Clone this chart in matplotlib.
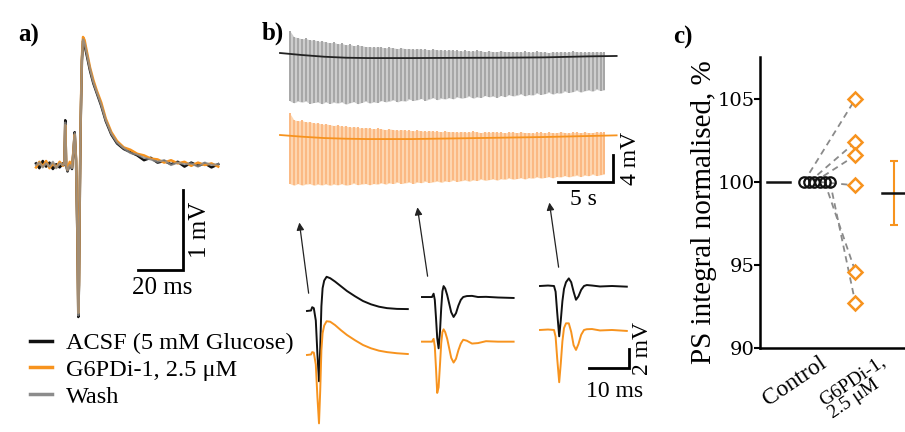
import numpy as np
import matplotlib
matplotlib.use("Agg")
import matplotlib.pyplot as plt
from matplotlib.lines import Line2D

W, H = 905, 432
plt.rcParams['font.family'] = ['Liberation Serif', 'DejaVu Serif']

BLACK = '#111111'
ORANGE = '#f7931e'
GRAY = '#8c8c8c'

# ---------------- data ----------------
# panel a: averaged field potential (ms, mV)
t_a = [0, 1.5, 3, 4.5, 6, 7.5, 9, 10.5, 12, 12.6, 13.0, 13.4, 14.0, 15.0, 16.0, 16.6, 17.2, 17.8,
       18.4, 18.8, 19.1, 19.5, 19.9, 20.4, 20.9, 21.6, 22.5, 24, 25.5, 27, 29, 31, 33.5, 36,
       39, 42, 45, 48, 51, 54, 57, 60, 63, 66, 69, 72, 75, 78, 81]
acsf_a = [0.02, -0.04, 0.05, -0.02, 0.03, -0.05, 0.01, -0.03, 0.02,
          0.00, 0.56, 0.00, -0.08, 0.02, -0.05, 0.15, 0.41, 0.05,
          -0.90, -1.90, -1.50, -0.30, 0.60, 1.30, 1.55,
          1.50, 1.38, 1.18, 1.02, 0.90, 0.74, 0.55, 0.38, 0.27,
          0.20, 0.16, 0.12, 0.06, 0.09, 0.03, 0.05, 0.01, 0.04,
          -0.02, 0.03, -0.01, 0.02, -0.03, 0.01]
g6pdi_a = [-0.03, 0.04, -0.02, 0.05, -0.04, 0.02, -0.03, 0.04, -0.01,
           0.02, 0.50, 0.02, -0.06, 0.04, -0.03, 0.17, 0.38, 0.08,
           -0.85, -1.85, -1.45, -0.25, 0.65, 1.35, 1.60,
           1.56, 1.43, 1.22, 1.06, 0.93, 0.78, 0.58, 0.41, 0.30,
           0.22, 0.19, 0.14, 0.12, 0.08, 0.07, 0.03, 0.06, 0.02,
           0.04, -0.01, 0.03, 0.00, 0.02, -0.02]
wash_a = [0.00, 0.03, -0.03, 0.02, -0.02, 0.04, -0.04, 0.02, 0.00,
          0.01, 0.53, -0.01, -0.07, 0.00, -0.04, 0.16, 0.40, 0.06,
          -0.88, -1.88, -1.48, -0.28, 0.62, 1.32, 1.57,
          1.52, 1.40, 1.20, 1.03, 0.91, 0.75, 0.56, 0.39, 0.28,
          0.21, 0.15, 0.13, 0.09, 0.07, 0.04, 0.06, 0.00, 0.03,
          0.01, 0.02, -0.02, 0.03, 0.00, 0.01]

# panel b: long recordings (s, mV); spike extremes relative to baseline
base_t = [0, 2, 4, 6, 8, 12, 16, 20, 24, 28, 30.6]
acsf_base = [0, -0.3, -0.55, -0.7, -0.75, -0.75, -0.72, -0.7, -0.65, -0.5, -0.44]
g6pdi_base = [0, -0.25, -0.45, -0.55, -0.6, -0.6, -0.5, -0.4, -0.3, -0.15, -0.05]

acsf_up = [3.4, 2.6, 2.5, 2.4, 2.5, 2.3, 2.4, 2.2, 2.3, 2.2,
           2.1, 2.2, 2.0, 2.1, 1.9, 2.0, 1.8, 1.9, 1.8, 1.7,
           1.7, 1.6, 1.7, 1.6, 1.5, 1.6, 1.5, 1.4, 1.5, 1.4,
           1.4, 1.3, 1.4, 1.3, 1.3, 1.2, 1.3, 1.2, 1.2, 1.1,
           1.2, 1.1, 1.1, 1.0, 1.1, 1.0, 1.0, 1.1, 1.0, 0.9,
           1.0, 0.9, 0.9, 1.0, 0.9, 0.9, 0.8, 0.9, 0.8, 0.9,
           0.8, 0.8, 0.9, 0.8, 0.8, 0.7, 0.8, 0.7, 0.8, 0.7,
           0.7, 0.8, 0.7, 0.7, 0.6, 0.7, 0.6, 0.7, 0.6, 0.6]
acsf_low = [-7.0, -7.2, -6.9, -7.0, -6.8, -7.1, -6.9, -6.8, -7.0, -6.7,
            -6.9, -6.7, -6.8, -6.6, -6.9, -6.7, -6.5, -6.8, -6.6, -6.4,
            -6.7, -6.5, -6.6, -6.3, -6.5, -6.4, -6.2, -6.5, -6.3, -6.4,
            -6.1, -6.3, -6.2, -6.0, -6.3, -6.1, -5.9, -6.2, -6.0, -6.1,
            -5.9, -6.1, -5.8, -6.0, -5.9, -5.7, -6.0, -5.8, -5.9, -5.6,
            -5.8, -5.7, -5.9, -5.6, -5.8, -5.5, -5.7, -5.6, -5.4, -5.7,
            -5.5, -5.6, -5.3, -5.5, -5.4, -5.2, -5.5, -5.3, -5.4, -5.1,
            -5.3, -5.2, -5.0, -5.3, -5.1, -5.0, -5.2, -4.9, -5.1, -5.0]
g6pdi_up = [3.3, 2.4, 2.3, 2.4, 2.2, 2.3, 2.1, 2.2, 2.0, 2.1,
            2.0, 1.9, 2.0, 1.8, 1.9, 1.7, 1.8, 1.7, 1.6, 1.7,
            1.6, 1.5, 1.6, 1.5, 1.4, 1.5, 1.4, 1.3, 1.4, 1.3,
            1.3, 1.2, 1.3, 1.2, 1.1, 1.2, 1.1, 1.1, 1.0, 1.1,
            1.0, 1.0, 0.9, 1.0, 0.9, 0.9, 1.0, 0.9, 0.8, 0.9,
            0.8, 0.9, 0.8, 0.8, 0.7, 0.8, 0.8, 0.7, 0.8, 0.7,
            0.7, 0.6, 0.7, 0.7, 0.6, 0.7, 0.6, 0.6, 0.7, 0.6,
            0.5, 0.6, 0.6, 0.5, 0.6, 0.5, 0.5, 0.6, 0.5, 0.5]
g6pdi_low = [-7.1, -7.3, -7.0, -7.2, -7.0, -6.9, -7.1, -6.9, -7.0, -6.8,
             -7.0, -6.8, -6.9, -6.7, -6.9, -6.8, -6.6, -6.8, -6.7, -6.6,
             -6.8, -6.6, -6.7, -6.5, -6.7, -6.5, -6.6, -6.4, -6.6, -6.5,
             -6.4, -6.6, -6.4, -6.5, -6.3, -6.5, -6.4, -6.3, -6.5, -6.3,
             -6.4, -6.2, -6.4, -6.3, -6.2, -6.4, -6.2, -6.3, -6.1, -6.3,
             -6.2, -6.1, -6.3, -6.1, -6.2, -6.0, -6.2, -6.1, -6.0, -6.2,
             -6.0, -6.1, -5.9, -6.1, -6.0, -5.9, -6.1, -5.9, -6.0, -5.8,
             -6.0, -5.9, -5.8, -6.0, -5.8, -5.9, -5.7, -5.9, -5.8, -5.7]
stim_first_s = 0.9
stim_interval_s = 0.362

# panel b: single sweeps (ms, mV relative to baseline)
s1_t = [0, 1.0, 1.3, 1.7, 2.2, 2.6, 3.0, 3.3, 3.6, 3.9, 4.3, 4.9, 5.8, 7.0, 8.5, 10, 12, 14, 16, 18, 20, 22.5, 25.2]
s1_acsf = [0, 0.05, 0.4, 0.3, -1.0, -4.5, -7.4, -4.0, 0.5, 2.4, 3.2, 3.6, 3.45, 3.1, 2.6, 2.1, 1.55, 1.05, 0.7, 0.45, 0.3, 0.22, 0.2]
s1_g6pdi = [0, 0.05, 0.3, 0.25, -1.0, -4.4, -7.2, -3.8, 0.5, 2.3, 3.1, 3.55, 3.5, 3.15, 2.6, 2.1, 1.55, 1.05, 0.7, 0.45, 0.3, 0.18, 0.1]
s2_t = [0, 2.5, 2.9, 3.2, 3.5, 3.8, 4.15, 4.5, 4.8, 5.1, 5.4, 5.8, 6.3, 6.8, 7.3, 7.9, 8.5, 9.1,
        9.7, 10.3, 11.2, 12.5, 14, 16, 19, 22.9]
s2_acsf = [0, 0, 0.35, -0.3, -2.2, -4.3, -5.4, -3.6, -1.2, 0.6, 1.15, 0.9, 0.2, -0.7, -1.6, -2.1, -1.7, -0.9,
           -0.3, 0.0, 0.1, 0.12, 0.0, 0.02, -0.05, -0.1]
s2_g6pdi = [0, 0, 0.3, -0.5, -2.8, -5.4, -4.8, -2.4, -0.2, 1.0, 1.3, 1.0, 0.3, -0.7, -1.7, -2.2, -1.8, -0.9,
            -0.2, 0.2, 0.1, -0.2, -0.15, 0.05, 0.0, 0.0]
s3_t = [0, 2.0, 3.5, 3.9, 4.3, 4.8, 5.2, 5.6, 6.0, 6.5, 7.2, 7.8, 8.4, 9.0, 9.6, 10.3, 11.0, 11.7, 13, 15, 18, 21.7]
s3_acsf = [0, 0.05, 0.0, -0.6, -2.8, -5.3, -3.6, -1.6, -0.3, 0.4, 0.8, 0.4, -0.6, -1.45, -1.1, -0.4, 0.0, 0.1,
           0.05, -0.05, 0.0, -0.07]
s3_g6pdi = [0, 0.05, 0.0, -0.7, -3.0, -5.5, -3.5, -1.2, 0.2, 0.7, 0.7, -0.2, -1.6, -2.1, -1.5, -0.5, 0.0, 0.08,
            0.1, -0.05, 0.0, -0.1]

# panel c: PS integral, %
control_pct = [100, 100, 100, 100, 100, 100]
g6pdi_pct = [105.0, 102.4, 101.6, 99.8, 94.6, 92.7]
c_labels = ['Control', 'G6PDi-1,\n2.5 μM']


def px_axes(left, top, right, bottom):
    ax = fig.add_axes([left / W, 1 - bottom / H, (right - left) / W, (bottom - top) / H])
    return ax


fig = plt.figure(figsize=(W / 100, H / 100), dpi=100)

# ---------------- a) ----------------
ax_a = px_axes(25, 25, 245, 330)
ax_a.set_axis_off()
ax_a.set_xlim(-4.89, 92.89)
ax_a.set_ylim(-2.0625, 1.75)
ax_a.plot(t_a, acsf_a, color=BLACK, lw=1.8)
ax_a.plot(t_a, g6pdi_a, color=ORANGE, lw=1.8)
ax_a.plot(t_a, wash_a, color=GRAY, lw=1.6, alpha=0.8)
ax_a.plot([45.3, 65.3, 65.3], [-1.3125, -1.3125, -0.3125], color='black', lw=2, solid_joinstyle='miter')
ax_a.text(56, -1.4, '20 ms', ha='center', va='top', fontsize=18)
ax_a.text(67.8, -0.81, '1 mV', rotation=90, ha='left', va='center', fontsize=18)

handles = [Line2D([], [], color=BLACK, lw=2.5), Line2D([], [], color=ORANGE, lw=2.5),
           Line2D([], [], color=GRAY, lw=2.5)]
fig.legend(handles, ['ACSF (5 mM Glucose)', 'G6PDi-1, 2.5 μM', 'Wash'],
           loc='upper left', bbox_to_anchor=(30 / W, 1 - 332 / H), frameon=False,
           fontsize=17.5, handlelength=0.9, handletextpad=0.6, labelspacing=0.2,
           borderpad=0, borderaxespad=0)

# ---------------- b) long traces ----------------
ax_b = px_axes(270, 15, 645, 205)
ax_b.set_axis_off()
ax_b.set_xlim(-0.909, 33.18)
ax_b.set_ylim(-22.52, 5.63)
spike_t = stim_first_s + stim_interval_s * np.arange(len(acsf_up))
for base, up, low, off, line_c, spike_c, fill_c in [
        (acsf_base, acsf_up, acsf_low, 0.0, '#222222', '#a6a6a6', '#cdcdcd'),
        (g6pdi_base, g6pdi_up, g6pdi_low, -12.15, ORANGE, '#fbb982', '#fdd6b0')]:
    b_at = np.interp(spike_t, base_t, base) + off
    top = b_at + np.array(up)
    bot = b_at + np.array(low)
    ax_b.fill_between(spike_t, bot, top, color=fill_c, lw=0)
    ax_b.vlines(spike_t, bot, top, color=spike_c, lw=1.4)
    ax_b.plot(base_t, np.array(base) + off, color=line_c, lw=1.3)
ax_b.plot([25.27, 30.27, 30.27], [-19.11, -19.11, -15.11], color='black', lw=2, solid_joinstyle='miter')
ax_b.text(27.6, -20.2, '5 s', ha='center', va='top', fontsize=17)
ax_b.text(30.9, -15.6, '4 mV', rotation=90, ha='left', va='center', fontsize=17)

# ---------------- b) single sweeps ----------------
ax_s = px_axes(285, 195, 655, 432)
ax_s.set_axis_off()
ax_s.set_xlim(-5.5, 87)
ax_s.set_ylim(-12.74, 12.21)
sweeps = [(s1_t, s1_acsf, s1_g6pdi), (s2_t, s2_acsf, s2_g6pdi), (s3_t, s3_acsf, s3_g6pdi)]
x_off = [0, 28.75, 58.25]
acsf_off = [0, 1.47, 2.63]
g6pdi_off = [-4.63, -3.23, -2.0]
for (t, va, vg), xo, ya, yg in zip(sweeps, x_off, acsf_off, g6pdi_off):
    ax_s.plot(np.array(t) + xo, np.array(va) + ya, color=BLACK, lw=1.4)
    ax_s.plot(np.array(t) + xo, np.array(vg) + yg, color=ORANGE, lw=1.4)
for tail, head in [((0.5, 1.58), (-2.0, 9.6)), ((30.25, 3.37), (27.5, 11.2)), ((63.0, 4.32), (60.5, 11.7))]:
    ax_s.annotate('', xy=head, xytext=tail,
                  arrowprops=dict(arrowstyle='-|>', color='#222222', lw=0.9, mutation_scale=11))
ax_s.plot([70.5, 80.5, 80.5], [-6.0, -6.0, -4.0], color='black', lw=2, solid_joinstyle='miter')
ax_s.text(77, -7.4, '10 ms', ha='center', va='top', fontsize=17)
ax_s.text(81.2, -4.0, '2 mV', rotation=90, ha='left', va='center', fontsize=17)

# ---------------- c) ----------------
ax_c = px_axes(760, 57, 930, 348)
ax_c.set_xlim(-1.48, 2.94)
ax_c.set_ylim(90, 107.53)
for s in ['top', 'right']:
    ax_c.spines[s].set_visible(False)
for s in ['left', 'bottom']:
    ax_c.spines[s].set_linewidth(1.8)
ctrl_x = [-0.34, -0.2, -0.07, 0.07, 0.2, 0.34]
for cx, c, g in zip(ctrl_x, control_pct, g6pdi_pct):
    ax_c.plot([cx, 1], [c, g], ls=(0, (3.5, 2.5)), color='#8a8a8a', lw=1.3, zorder=1)
ax_c.plot(ctrl_x, control_pct, 'o', ms=7.5, mfc='none', mec=BLACK, mew=1.6, zorder=3)
ax_c.plot([1] * len(g6pdi_pct), g6pdi_pct, 'D', ms=7.2, mfc='white', mec=ORANGE, mew=1.8, zorder=3)
ctrl_mean = np.mean(control_pct)
g_mean = np.mean(g6pdi_pct)
g_sem = np.std(g6pdi_pct, ddof=1) / np.sqrt(len(g6pdi_pct))
ax_c.plot([-1.31, -0.69], [ctrl_mean, ctrl_mean], color=BLACK, lw=1.8, zorder=2)
ax_c.errorbar([2], [g_mean], yerr=[g_sem], color=ORANGE, capsize=3, lw=1.5, capthick=1.5, zorder=2)
ax_c.plot([1.69, 2.31], [g_mean, g_mean], color=BLACK, lw=1.8, zorder=4)

ax_c.set_yticks([90, 95, 100, 105])
ax_c.tick_params(axis='y', length=4, width=1.5, pad=0)
for lbl in ax_c.get_yticklabels():
    lbl.set_fontfamily('DejaVu Serif')
    lbl.set_fontsize(14)
ax_c.set_xticks([0.05, 1.62])
ax_c.set_xticklabels(c_labels, rotation=34, ha='right', rotation_mode='anchor')
xl = ax_c.get_xticklabels()
xl[0].set_fontsize(17)
xl[1].set_fontsize(14)
xl[1].set_multialignment('left')
xl[1].set_linespacing(0.95)
ax_c.tick_params(axis='x', length=0, pad=3)
ax_c.set_ylabel('PS integral normalised, %', fontsize=21)
ax_c.yaxis.set_label_coords(-0.253, 0.467)

# panel letters
for x, y, s in [(18, 35, 'a)'), (262, 33, 'b)'), (673, 37, 'c)')]:
    fig.text(x / W, 1 - y / H, s, fontsize=18, fontweight='bold', va='center', ha='left')

fig.savefig('out.png', dpi=100)
